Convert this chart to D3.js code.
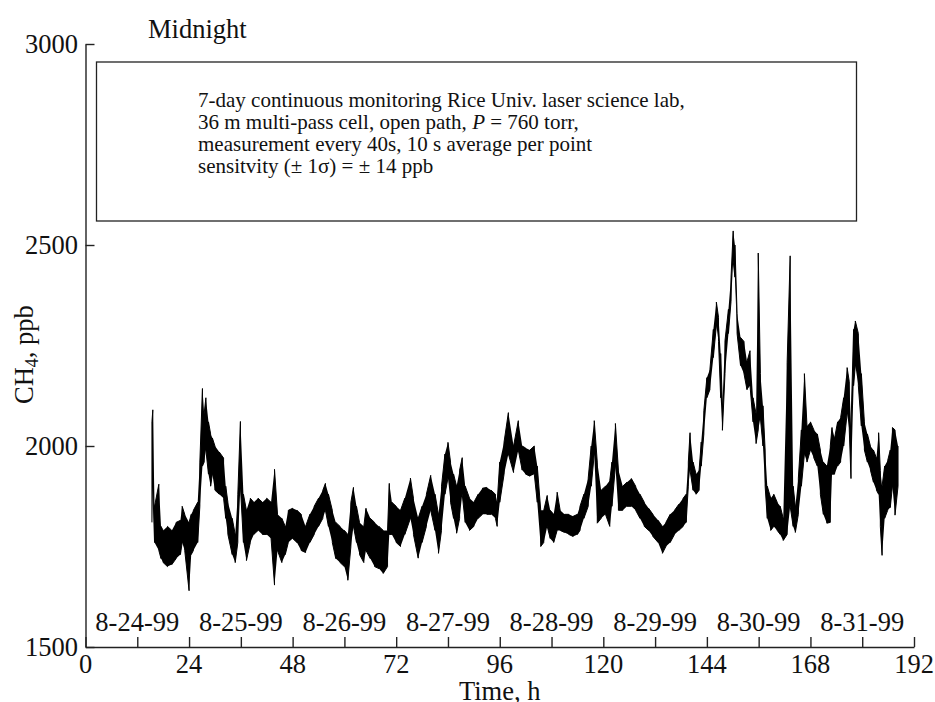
<!DOCTYPE html>
<html>
<head>
<meta charset="utf-8">
<script src="https://cdn.jsdelivr.net/npm/d3@7"></script>
<style>
  body { margin: 0; background: #fff; }
  text { font-family: "Liberation Serif", "Times New Roman", serif; fill: #111; }
</style>
</head>
<body>
<div id="chart"></div>
<script>
// Sample times (h) with the low / high edge of the noisy CH4 trace (ppb)
let hours = [15.4, 15.6, 16.0, 17.0, 17.5, 18.0, 19.0, 20.0, 21.0, 22.0, 22.4, 23.0, 24.0, 24.5, 25.0, 26.0, 26.5, 27.1, 27.5, 27.9,
  28.5, 29.0, 29.4, 30.0, 31.0, 32.0, 32.5, 33.0, 34.0, 34.7, 35.3, 35.9, 36.6, 37.3, 38.2, 39.0, 40.0, 41.0, 42.0, 43.0,
  43.8, 44.5, 45.5, 46.3, 47.0, 48.0, 49.0, 50.0, 51.0, 52.0, 53.0, 54.0, 55.0, 55.6, 56.3, 57.2, 58.0, 59.0, 60.0, 60.8,
  61.5, 62.1, 62.8, 63.5, 64.5, 65.0, 66.0, 67.0, 68.0, 69.0, 70.0, 70.4, 71.0, 72.0, 73.0, 74.0, 75.3, 76.0, 77.1, 78.0,
  79.0, 80.0, 81.0, 81.8, 82.5, 83.3, 84.0, 84.6, 85.3, 86.0, 86.7, 87.3, 88.0, 89.0, 90.0, 91.0, 92.0, 93.0, 94.0, 95.0,
  95.4, 96.0, 97.0, 98.0, 99.2, 100.3, 101.2, 102.0, 103.0, 104.0, 104.7, 105.5, 106.2, 107.0, 107.7, 108.5, 109.3, 110.0, 111.0, 112.0,
  113.0, 114.0, 114.6, 115.5, 116.5, 117.2, 117.9, 118.6, 119.5, 120.5, 121.5, 122.0, 122.8, 123.5, 124.5, 125.5, 126.5, 127.5, 128.5, 129.5,
  130.5, 131.5, 132.7, 133.7, 134.5, 135.5, 136.5, 137.5, 138.5, 139.2, 139.7, 140.1, 140.8, 141.5, 142.2, 142.7, 143.3, 144.0, 144.7, 145.5,
  146.2, 146.7, 147.2, 147.6, 148.2, 149.0, 149.6, 150.1, 150.5, 151.0, 151.8, 152.6, 153.3, 154.0, 154.7, 155.4, 155.9, 156.4, 157.0, 157.5,
  158.0, 158.8, 159.5, 160.3, 161.0, 161.7, 162.6, 163.3, 164.0, 164.5, 165.2, 165.9, 166.6, 167.2, 168.0, 168.8, 169.6, 170.3, 171.0, 171.8,
  172.6, 173.0, 173.6, 174.3, 175.0, 175.7, 176.5, 177.0, 177.4, 178.0, 178.4, 179.1, 179.8, 180.5, 181.2, 181.9, 182.6, 183.3, 183.8, 184.2,
  184.6, 185.2, 185.9, 186.5, 187.0, 187.6, 188.3];

let lowPpb = [1810, 1900, 1760, 1740, 1720, 1710, 1700, 1705, 1720, 1730, 1760, 1740, 1640, 1730, 1740, 1760, 1850, 1950, 1960, 1990,
  1930, 1900, 1930, 1890, 1880, 1870, 1820, 1780, 1730, 1710, 1760, 1900, 1760, 1715, 1760, 1780, 1790, 1780, 1780, 1770,
  1654, 1740, 1710, 1730, 1760, 1770, 1760, 1740, 1735, 1760, 1780, 1800, 1820, 1840, 1800, 1760, 1720, 1710, 1700, 1666,
  1750, 1800, 1760, 1730, 1710, 1740, 1720, 1700, 1695, 1683, 1700, 1780, 1780, 1760, 1750, 1780, 1820, 1780, 1721, 1760,
  1800, 1840, 1790, 1733, 1790, 1880, 1920, 1860, 1820, 1783, 1820, 1880, 1810, 1790, 1800, 1820, 1830, 1830, 1830, 1820,
  1800, 1860, 1930, 1980, 1934, 1990, 1940, 1930, 1925, 1930, 1860, 1750, 1760, 1800, 1770, 1760, 1790, 1790, 1785, 1780,
  1775, 1780, 1790, 1820, 1850, 1900, 1980, 1808, 1820, 1830, 1800, 1850, 1950, 1840, 1840, 1850, 1850, 1840, 1820, 1800,
  1790, 1775, 1760, 1733, 1750, 1760, 1780, 1790, 1800, 1810, 1900, 1940, 1890, 1880, 1890, 1950, 2030, 2120, 2140, 2220,
  2300, 2260, 2120, 2039, 2180, 2280, 2360, 2460, 2420, 2280, 2200, 2180, 2140, 2150, 2060, 2006, 2040, 2070, 2000, 1900,
  1820, 1790, 1800, 1790, 1780, 1765, 1780, 1850, 1800, 1785, 1830, 1900, 1980, 1960, 1990, 1970, 1950, 1880, 1830, 1808,
  1810, 1930, 1930, 1950, 1960, 2000, 2080, 2040, 1919, 2150, 2200, 2150, 2050, 1990, 1960, 1940, 1910, 1890, 1880, 1800,
  1728, 1820, 1840, 1847, 1900, 1828, 1900];

let highPpb = [2060, 2090, 1850, 1905, 1800, 1790, 1800, 1790, 1810, 1815, 1850, 1830, 1810, 1830, 1840, 1860, 1960, 2143, 2080, 2120,
  2060, 2030, 2020, 2000, 1985, 1970, 1900, 1860, 1820, 1780, 1880, 2061, 1880, 1840, 1870, 1860, 1870, 1860, 1870, 1860,
  1942, 1830, 1820, 1800, 1840, 1845, 1840, 1830, 1800, 1830, 1850, 1870, 1890, 1907, 1880, 1840, 1810, 1800, 1790, 1780,
  1860, 1897, 1850, 1810, 1800, 1845, 1820, 1810, 1800, 1790, 1790, 1907, 1860, 1850, 1840, 1870, 1920, 1870, 1820, 1850,
  1880, 1927, 1880, 1830, 1900, 1980, 2009, 1960, 1930, 1900, 1940, 1971, 1900, 1870, 1860, 1880, 1895, 1897, 1890, 1880,
  1860, 1960, 2010, 2083, 2000, 2063, 2000, 1995, 1990, 2000, 1950, 1840, 1840, 1877, 1840, 1830, 1885, 1840, 1830, 1830,
  1825, 1830, 1850, 1880, 1920, 2000, 2063, 1960, 1890, 1900, 1914, 1960, 2056, 1940, 1900, 1910, 1919, 1900, 1880, 1860,
  1845, 1830, 1815, 1800, 1810, 1830, 1840, 1855, 1870, 1880, 1960, 2033, 1960, 1930, 1940, 2010, 2088, 2170, 2190, 2290,
  2358, 2320, 2230, 2100, 2262, 2340, 2420, 2535, 2500, 2330, 2270, 2260, 2210, 2237, 2120, 2080, 2480, 2180, 2100, 1990,
  1900, 1870, 1880, 1860, 1850, 1820, 2207, 2473, 1900, 1850, 1920, 2040, 2180, 2050, 2060, 2040, 2030, 1990, 1960, 1950,
  2000, 2046, 2020, 2060, 2071, 2120, 2195, 2160, 2050, 2290, 2311, 2280, 2180, 2060, 2030, 2000, 1990, 1970, 2033, 1939,
  1900, 1950, 1964, 1990, 2046, 2040, 2000];

let xTicks = [0, 12, 24, 36, 48, 60, 72, 84, 96, 108, 120, 132, 144, 156, 168, 180, 192];
let yTicks = [1500, 2000, 2500, 3000];
let dateHours = [12, 36, 60, 84, 108, 132, 156, 180];
let dateLabels = ["8-24-99", "8-25-99", "8-26-99", "8-27-99", "8-28-99", "8-29-99", "8-30-99", "8-31-99"];

let W = 935, H = 702;
let svg = d3.select("#chart").append("svg").attr("width", W).attr("height", H);

let x = d3.scaleLinear().domain([0, 192]).range([85.5, 914]);
let y = d3.scaleLinear().domain([1500, 3000]).range([647, 44]);

let axisColor = "#222";
let fs = 26.5;

// noisy trace: area between low and high edge plus a zigzag line through both
let pts = hours.map((h, i) => ({ h: h, lo: lowPpb[i], hi: highPpb[i] }));

svg.append("path")
  .datum(pts)
  .attr("d", d3.area().x((d) => x(d.h)).y0((d) => y(d.lo)).y1((d) => y(d.hi)))
  .attr("fill", "#000");

let zig = [];
pts.forEach((d, i) => {
  if (i % 2 === 0) { zig.push([d.h, d.lo]); zig.push([d.h, d.hi]); }
  else { zig.push([d.h, d.hi]); zig.push([d.h, d.lo]); }
});
svg.append("path")
  .datum(zig)
  .attr("d", d3.line().x((d) => x(d[0])).y((d) => y(d[1])))
  .attr("fill", "none")
  .attr("stroke", "#000")
  .attr("stroke-width", 1);

// X axis, ticks pointing inward
let xAxis = svg.append("g")
  .attr("transform", `translate(0,${y(1500)})`)
  .call(d3.axisBottom(x).tickValues(xTicks).tickSize(-10).tickSizeOuter(0).tickFormat(""));
xAxis.select(".domain").attr("stroke", axisColor).attr("stroke-width", 1.4);
xAxis.selectAll(".tick line").attr("stroke", axisColor).attr("stroke-width", 1.4);

svg.append("g")
  .selectAll("text")
  .data(xTicks.filter((d) => d % 24 === 0))
  .enter()
  .append("text")
  .attr("x", (d) => x(d))
  .attr("y", 673)
  .attr("text-anchor", "middle")
  .style("font-size", fs + "px")
  .text((d) => d);

// Y axis
let yAxis = svg.append("g")
  .attr("transform", `translate(${x(0)},0)`)
  .call(d3.axisLeft(y).tickValues(yTicks).tickSize(-9).tickSizeOuter(0).tickFormat(""));
yAxis.select(".domain").attr("stroke", axisColor).attr("stroke-width", 1.4);
yAxis.selectAll(".tick line").attr("stroke", axisColor).attr("stroke-width", 1.4);

svg.append("g")
  .selectAll("text")
  .data(yTicks)
  .enter()
  .append("text")
  .attr("x", 78)
  .attr("y", (d) => y(d) + 9)
  .attr("text-anchor", "end")
  .style("font-size", fs + "px")
  .text((d) => d);

// day labels above the time axis
svg.append("g")
  .selectAll("text")
  .data(dateLabels)
  .enter()
  .append("text")
  .attr("x", (d, i) => x(dateHours[i]))
  .attr("y", 631)
  .attr("text-anchor", "middle")
  .style("font-size", fs + "px")
  .text((d) => d);

svg.append("text")
  .attr("x", 148)
  .attr("y", 38)
  .style("font-size", fs + "px")
  .text("Midnight");

svg.append("text")
  .attr("x", (x(0) + x(192)) / 2)
  .attr("y", 700)
  .attr("text-anchor", "middle")
  .style("font-size", fs + "px")
  .text("Time, h");

// Y label CH4, ppb
let yLab = svg.append("text")
  .attr("transform", "translate(33,404) rotate(-90)")
  .style("font-size", fs + "px");
yLab.append("tspan").text("CH");
yLab.append("tspan").attr("dy", 5).style("font-size", "18px").text("4");
yLab.append("tspan").attr("dy", -5).text(", ppb");

// info box
svg.append("rect")
  .attr("x", 96.5)
  .attr("y", 62)
  .attr("width", 760)
  .attr("height", 159)
  .attr("fill", "none")
  .attr("stroke", axisColor)
  .attr("stroke-width", 1.3);

let bx = 198;
let boxText = svg.append("text")
  .attr("x", bx)
  .attr("y", 107)
  .style("font-size", "21px");
boxText.append("tspan").attr("x", bx).attr("dy", 0)
  .text("7-day continuous monitoring Rice Univ. laser science lab,");
let l2 = boxText.append("tspan").attr("x", bx).attr("dy", 22);
l2.append("tspan").text("36 m multi-pass cell, open path, ");
l2.append("tspan").style("font-style", "italic").text("P");
l2.append("tspan").text(" = 760 torr,");
boxText.append("tspan").attr("x", bx).attr("dy", 22)
  .text("measurement every 40s, 10 s average per point");
boxText.append("tspan").attr("x", bx).attr("dy", 22)
  .text("sensitvity (\u00b1 1\u03c3) = \u00b1 14 ppb");
</script>
</body>
</html>
